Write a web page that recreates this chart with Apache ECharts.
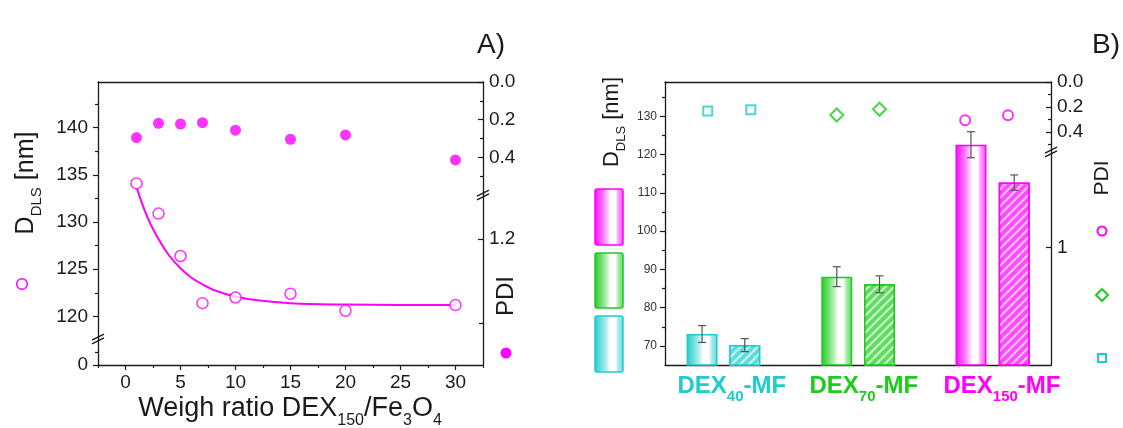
<!DOCTYPE html>
<html><head><meta charset="utf-8">
<script src="https://cdn.jsdelivr.net/npm/echarts@6/dist/echarts.min.js"></script>
<style>html,body{margin:0;padding:0;background:#fff}#c{width:1123px;height:428px}</style>
</head><body><div id="c"></div>
<script>
// ---------- Panel A data ----------
const ratioX = [1, 3, 5, 7, 10, 15, 20, 30];
const dlsA = [134.1, 130.9, 126.4, 121.4, 122.0, 122.4, 120.6, 121.2];
const pdiA = [0.295, 0.219, 0.223, 0.216, 0.256, 0.304, 0.281, 0.414];
const fitX = [1, 2, 3, 4, 5, 6, 7, 8, 10, 12, 15, 20, 25, 30];
const fitY = [133.7, 130.5, 128.2, 126.4, 125.1, 124.1, 123.4, 122.8, 122.1, 121.7, 121.4, 121.25, 121.2, 121.2];
const xTicksA = [0, 5, 10, 15, 20, 25, 30];
const xMinorA = [-2.5, 2.5, 7.5, 12.5, 17.5, 22.5, 27.5, 32.5];
const yTicksA = [120, 125, 130, 135, 140];
const yMinorA = [122.5, 127.5, 132.5, 137.5, 142.5];
const pdiTicksA = [0.0, 0.2, 0.4];
const pdiMinorA = [0.1, 0.3, 0.5];

// ---------- Panel B data ----------
const groupSubs = ['40', '70', '150'];
const dlsPlain = [73.1, 88.1, 122.6];
const dlsPlainErr = [2.2, 2.6, 3.4];
const dlsHatch = [70.2, 86.1, 112.7];
const dlsHatchErr = [1.7, 2.2, 2.0];
const pdiPlain = [0.232, 0.264, 0.306];
const pdiHatch = [0.221, 0.218, 0.266];
const yTicksB = [70, 80, 90, 100, 110, 120, 130];
const yMinorB = [75, 85, 95, 105, 115, 125, 135];
const pdiTicksB = [0.0, 0.2, 0.4];

// ---------- layout (positions on panel B value x-axis) ----------
const barPosPlain = [0.788, 1.835, 2.878];
const barPosHatch = [1.120, 2.167, 3.214];
const mkPosPlain = [0.832, 1.835, 2.833];
const mkPosHatch = [1.167, 2.167, 3.166];
const labelPos = [1.019, 2.045, 3.119];

const FONT = '"Liberation Sans", Arial, sans-serif';
const INK = '#1a1a1a';
const MAG = '#FF00FF', GRN = '#1ECC1E', CYN = '#1FCCCC';
const groupColors = [CYN, GRN, MAG];

function rgba(hex, a) {
  const n = parseInt(hex.slice(1), 16);
  return `rgba(${(n >> 16) & 255},${(n >> 8) & 255},${n & 255},${a})`;
}

function mkAxis(o) {
  return {
    type: 'value', gridIndex: o.grid, position: o.pos, min: o.min, max: o.max, inverse: !!o.inverse,
    splitLine: { show: false },
    axisPointer: { show: false },
    axisLine: o.line ? { show: true, onZero: false, lineStyle: { color: INK, width: 1.3 } } : { show: false, onZero: false },
    axisTick: o.ticks ? { show: true, inside: !!o.inside, length: o.tickLen || 5, customValues: o.ticks, lineStyle: { color: INK, width: 1.2 } } : { show: false },
    axisLabel: o.labels ? { show: true, customValues: o.labels, formatter: o.fmt, margin: o.margin, fontSize: o.fs, color: o.color || INK, fontFamily: FONT, fontWeight: o.fw || 'normal', rich: o.rich } : { show: false }
  };
}

const pdiFmt = v => (+v).toFixed(1);

const grids = [
  { left: 98, top: 82, width: 385, height: 257 },   // 0 A upper (DLS)
  { left: 98, top: 339, width: 385, height: 26 },   // 1 A lower (DLS 0)
  { left: 98, top: 82, width: 385, height: 113 },   // 2 A PDI upper
  { left: 98, top: 195, width: 385, height: 170 },  // 3 A PDI lower
  { left: 665, top: 82, width: 386, height: 283 },  // 4 B main
  { left: 665, top: 82, width: 386, height: 69 },   // 5 B PDI upper
  { left: 665, top: 151, width: 386, height: 214 }  // 6 B PDI lower
];

const catRich = {};
groupColors.forEach((c, i) => {
  catRich['m' + i] = { color: c, fontSize: 24, fontWeight: 'bold', fontFamily: FONT, lineHeight: 26 };
  catRich['s' + i] = { color: c, fontSize: 15, fontWeight: 'bold', fontFamily: FONT, lineHeight: 15, padding: [22, 0, 0, 0] };
});

const xAxes = [
  mkAxis({ grid: 0, pos: 'top', min: -2.5, max: 32.5, line: true }),
  mkAxis({ grid: 1, pos: 'bottom', min: -2.5, max: 32.5, line: true, ticks: xTicksA, tickLen: 5, labels: xTicksA, fs: 19, margin: 8 }),
  mkAxis({ grid: 1, pos: 'bottom', min: -2.5, max: 32.5, ticks: xMinorA, tickLen: 3 }),
  mkAxis({ grid: 2, pos: 'bottom', min: -2.5, max: 32.5 }),
  mkAxis({ grid: 3, pos: 'bottom', min: -2.5, max: 32.5 }),
  mkAxis({ grid: 4, pos: 'bottom', min: 0.5, max: 3.5, line: true, labels: labelPos, margin: 8, rich: catRich,
    fmt: v => { let i = 0, d = 9; labelPos.forEach((p, k) => { if (Math.abs(p - v) < d) { d = Math.abs(p - v); i = k; } }); return `{m${i}|DEX}{s${i}|${groupSubs[i]}}{m${i}|-MF}`; } }),
  mkAxis({ grid: 4, pos: 'top', min: 0.5, max: 3.5, line: true }),
  mkAxis({ grid: 5, pos: 'bottom', min: 0.5, max: 3.5 }),
  mkAxis({ grid: 6, pos: 'bottom', min: 0.5, max: 3.5 })
];

const yAxes = [
  mkAxis({ grid: 0, pos: 'left', min: 117.6, max: 144.85, line: true, ticks: yTicksA, labels: yTicksA, fs: 19, margin: 10 }),
  mkAxis({ grid: 0, pos: 'left', min: 117.6, max: 144.85, ticks: yMinorA, tickLen: 3 }),
  mkAxis({ grid: 1, pos: 'left', min: 0, max: 5, line: true, ticks: [0], labels: [0], fs: 19, margin: 10 }),
  mkAxis({ grid: 1, pos: 'left', min: 0, max: 5, ticks: [2.5], tickLen: 3 }),
  mkAxis({ grid: 2, pos: 'right', min: 0, max: 0.6, inverse: true, line: true, ticks: pdiTicksA, inside: true, labels: pdiTicksA, fmt: pdiFmt, fs: 19, margin: 6 }),
  mkAxis({ grid: 2, pos: 'right', min: 0, max: 0.6, inverse: true, ticks: pdiMinorA, inside: true, tickLen: 3 }),
  mkAxis({ grid: 3, pos: 'right', min: 0.99, max: 1.8, inverse: true, line: true, ticks: [1.2], inside: true, labels: [1.2], fmt: pdiFmt, fs: 19, margin: 6 }),
  mkAxis({ grid: 3, pos: 'right', min: 0.99, max: 1.8, inverse: true, ticks: [1.6], inside: true, tickLen: 4 }),
  mkAxis({ grid: 4, pos: 'left', min: 65, max: 139, line: true, ticks: yTicksB, labels: yTicksB, fs: 12, margin: 8, color: '#333' }),
  mkAxis({ grid: 4, pos: 'left', min: 65, max: 139, ticks: yMinorB, tickLen: 3 }),
  mkAxis({ grid: 5, pos: 'right', min: 0, max: 0.552, inverse: true, line: true, ticks: pdiTicksB, inside: true, labels: pdiTicksB, fmt: pdiFmt, fs: 19, margin: 6 }),
  mkAxis({ grid: 5, pos: 'right', min: 0, max: 0.552, inverse: true, ticks: [0.1, 0.3, 0.5], inside: true, tickLen: 3 }),
  mkAxis({ grid: 6, pos: 'right', min: 0.552, max: 1.544, inverse: true, line: true, ticks: [1], inside: true, labels: [1], fmt: v => String(Math.round(v)), fs: 19, margin: 6 })
];

function plainStyle(c) {
  return {
    color: new echarts.graphic.LinearGradient(0, 0, 1, 0, [
      { offset: 0, color: rgba(c, 1) }, { offset: 0.12, color: rgba(c, 0.8) },
      { offset: 0.55, color: '#ffffff' }, { offset: 0.72, color: '#ffffff' },
      { offset: 0.92, color: rgba(c, 0.55) }, { offset: 1, color: rgba(c, 1) }]),
    borderColor: c, borderWidth: 1.5
  };
}
function hatchStyle(c) {
  return {
    color: rgba(c, 0.7), borderColor: c, borderWidth: 1.5,
    decal: { symbol: 'rect', symbolSize: 1, dashArrayX: [1, 0], dashArrayY: [1.5, 4], rotation: -Math.PI / 4, color: 'rgba(255,255,255,0.7)' }
  };
}

const barItems = [], errItems = [];
for (let i = 0; i < 3; i++) {
  barItems.push({ value: [barPosPlain[i], dlsPlain[i]], itemStyle: plainStyle(groupColors[i]) });
  barItems.push({ value: [barPosHatch[i], dlsHatch[i]], itemStyle: hatchStyle(groupColors[i]) });
  errItems.push([barPosPlain[i], dlsPlain[i], dlsPlainErr[i]]);
  errItems.push([barPosHatch[i], dlsHatch[i], dlsHatchErr[i]]);
}

const mkSymbols = ['rect', 'diamond', 'circle'];
const mkSizes = [9, 13, 10];
const pdiSeriesB = groupSubs.map((g, i) => ({
  type: 'scatter', name: 'PDI DEX' + g, xAxisIndex: 7, yAxisIndex: 10,
  symbol: mkSymbols[i], symbolSize: mkSizes[i],
  itemStyle: { color: '#fff', borderColor: groupColors[i], borderWidth: 2 },
  data: [[mkPosPlain[i], pdiPlain[i]], [mkPosHatch[i], pdiHatch[i]]], z: 5
}));

function breakMark(cx, cy) {
  return [-1.8, 1.8].map(d => ({
    type: 'line', z: 100, shape: { x1: cx - 6, y1: cy + 3 + d, x2: cx + 6, y2: cy - 3 + d },
    style: { stroke: INK, lineWidth: 1.3 }
  }));
}

function richTitle(x, y, text, mainFs, subFs, rot) {
  return {
    type: 'text', x: x, y: y, rotation: rot || 0, z: 100,
    style: {
      text: text, fill: INK, align: 'center', verticalAlign: 'middle', textAlign: 'center', textVerticalAlign: 'middle',
      font: `${mainFs}px ${FONT}`,
      rich: {
        m: { fontSize: mainFs, fontFamily: FONT, lineHeight: mainFs + 2, fill: INK },
        s: { fontSize: subFs, fontFamily: FONT, lineHeight: subFs, padding: [Math.round(mainFs * 0.88), 0, 0, 0], fill: INK }
      }
    }
  };
}

function legendBar(y, h, c) {
  return {
    type: 'rect', z: 50, shape: { x: 595, y: y, width: 28, height: h, r: 2 },
    style: {
      fill: new echarts.graphic.LinearGradient(0, 0, 1, 0, [
        { offset: 0, color: rgba(c, 1) }, { offset: 0.15, color: rgba(c, 0.75) },
        { offset: 0.55, color: '#ffffff' }, { offset: 0.72, color: '#ffffff' },
        { offset: 0.92, color: rgba(c, 0.55) }, { offset: 1, color: rgba(c, 1) }]),
      stroke: c, lineWidth: 1.5
    }
  };
}

const graphics = [
  { type: 'text', x: 491, y: 45, z: 100, style: { text: 'A)', font: `28px ${FONT}`, fill: INK, align: 'center', verticalAlign: 'middle', textAlign: 'center', textVerticalAlign: 'middle' } },
  { type: 'text', x: 1106, y: 45, z: 100, style: { text: 'B)', font: `28px ${FONT}`, fill: INK, align: 'center', verticalAlign: 'middle', textAlign: 'center', textVerticalAlign: 'middle' } },
  richTitle(26, 183, '{m|D}{s|DLS}{m| [nm]}', 25, 15, Math.PI / 2),
  richTitle(290, 409, '{m|Weigh ratio DEX}{s|150}{m|/Fe}{s|3}{m|O}{s|4}', 27, 16, 0),
  { type: 'text', x: 506, y: 296, rotation: Math.PI / 2, z: 100, style: { text: 'PDI', font: `24px ${FONT}`, fill: INK, align: 'center', verticalAlign: 'middle', textAlign: 'center', textVerticalAlign: 'middle' } },
  { type: 'circle', z: 100, shape: { cx: 22, cy: 284, r: 5.3 }, style: { fill: '#fff', stroke: MAG, lineWidth: 1.5 } },
  { type: 'circle', z: 100, shape: { cx: 506, cy: 353, r: 5.5 }, style: { fill: MAG } },
  richTitle(612, 122, '{m|D}{s|DLS}{m| [nm]}', 22, 13, Math.PI / 2),
  legendBar(189, 56, MAG), legendBar(253, 55, GRN), legendBar(316, 56, CYN),
  { type: 'text', x: 1102, y: 178, rotation: Math.PI / 2, z: 100, style: { text: 'PDI', font: `21px ${FONT}`, fill: INK, align: 'center', verticalAlign: 'middle', textAlign: 'center', textVerticalAlign: 'middle' } },
  { type: 'circle', z: 100, shape: { cx: 1102, cy: 231, r: 4.5 }, style: { fill: '#fff', stroke: MAG, lineWidth: 2 } },
  { type: 'polygon', z: 100, shape: { points: [[1102, 289], [1108, 295], [1102, 301], [1096, 295]] }, style: { fill: '#fff', stroke: GRN, lineWidth: 2 } },
  { type: 'rect', z: 100, shape: { x: 1098, y: 354, width: 8, height: 8 }, style: { fill: '#fff', stroke: CYN, lineWidth: 2 } }
].concat(breakMark(98, 339), breakMark(483, 195), breakMark(1051, 152));

const option = {
  animation: false,
  backgroundColor: '#fff',
  grid: grids,
  xAxis: xAxes,
  yAxis: yAxes,
  graphic: graphics,
  series: [
    { type: 'line', name: 'fit', xAxisIndex: 0, yAxisIndex: 0, smooth: 0.4, showSymbol: false, symbol: 'none',
      lineStyle: { color: MAG, width: 2 }, data: fitX.map((x, i) => [x, fitY[i]]) },
    { type: 'scatter', name: 'D_DLS', xAxisIndex: 0, yAxisIndex: 0, symbol: 'circle', symbolSize: 11,
      itemStyle: { color: '#fff', borderColor: MAG, borderWidth: 1.5 }, data: ratioX.map((x, i) => [x, dlsA[i]]), z: 4 },
    { type: 'scatter', name: 'PDI', xAxisIndex: 3, yAxisIndex: 4, symbol: 'circle', symbolSize: 11,
      itemStyle: { color: MAG }, data: ratioX.map((x, i) => [x, pdiA[i]]) },
    { type: 'bar', name: 'D_DLS B', xAxisIndex: 5, yAxisIndex: 8, barWidth: 31, data: barItems, z: 2 },
    { type: 'custom', name: 'err', xAxisIndex: 5, yAxisIndex: 8, z: 6, encode: { x: 0, y: 1 }, data: errItems,
      renderItem: function (params, api) {
        const x = api.value(0), y = api.value(1), e = api.value(2);
        const lo = api.coord([x, y - e]), hi = api.coord([x, y + e]);
        const w = 4, st = { stroke: '#555', lineWidth: 1.2 };
        return { type: 'group', children: [
          { type: 'line', shape: { x1: lo[0], y1: lo[1], x2: hi[0], y2: hi[1] }, style: st },
          { type: 'line', shape: { x1: lo[0] - w, y1: lo[1], x2: lo[0] + w, y2: lo[1] }, style: st },
          { type: 'line', shape: { x1: hi[0] - w, y1: hi[1], x2: hi[0] + w, y2: hi[1] }, style: st }
        ] };
      } }
  ].concat(pdiSeriesB)
};

const chart = echarts.init(document.getElementById('c'), null, { renderer: 'canvas' });
chart.setOption(option);
</script>
</body></html>
